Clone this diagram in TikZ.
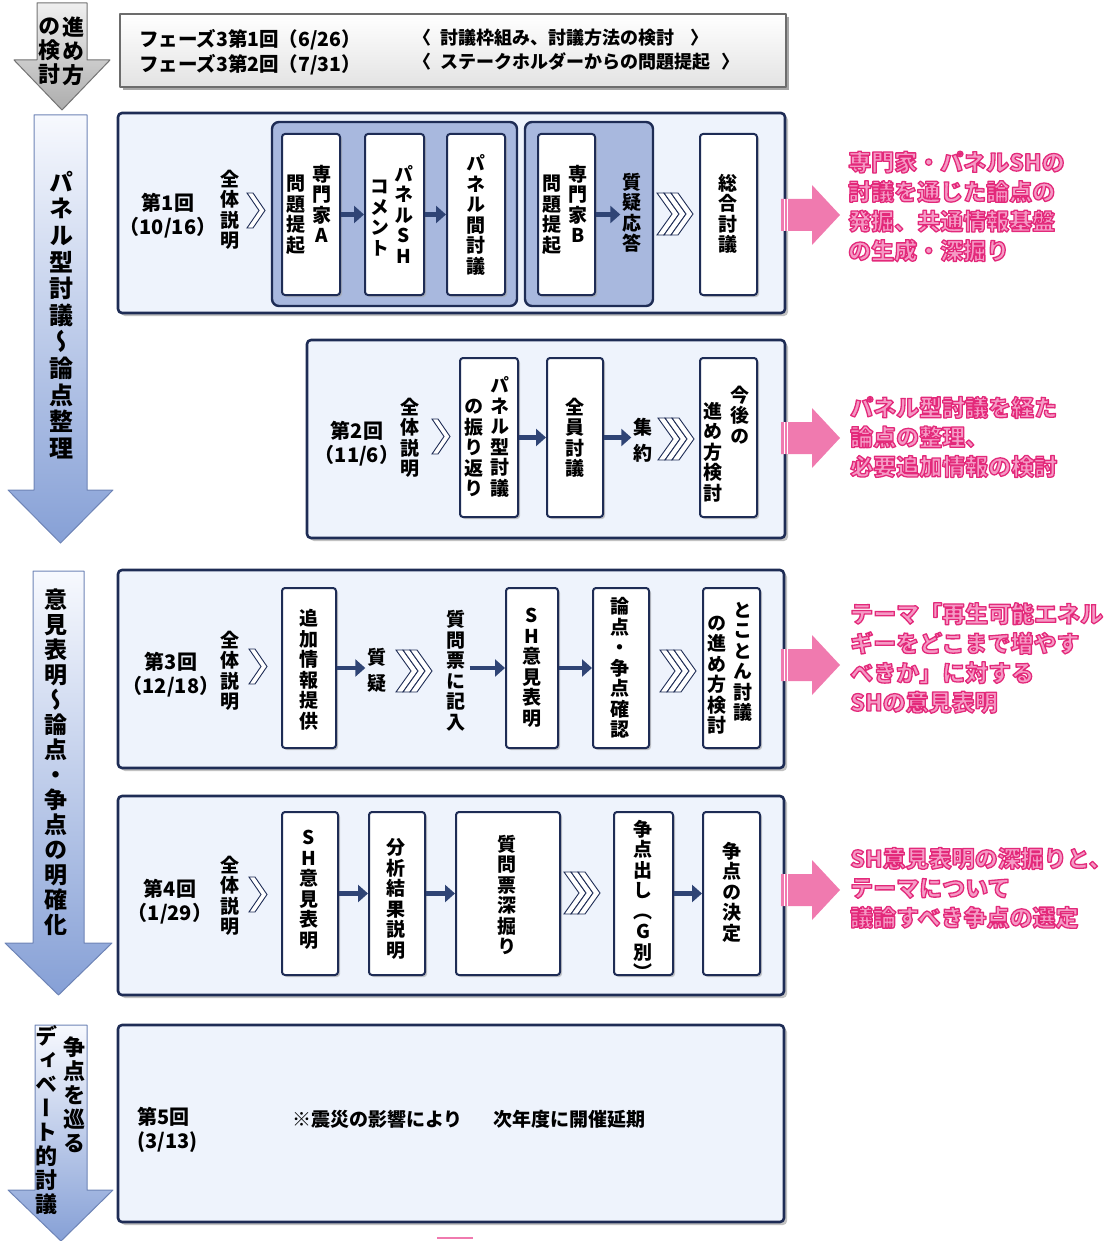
\documentclass[tikz,border=0pt]{standalone}
\usepackage{fontspec}
\usepackage{graphicx}
\usetikzlibrary{arrows.meta,shadows}
\newfontfamily\jpfont{Noto Sans CJK JP}
\newfontfamily\jpvfont{Noto Sans CJK JP}[RawFeature=+vert]
\definecolor{navy}{HTML}{1E2C55}
\definecolor{flowblue}{HTML}{2F4475}
\definecolor{boxfill}{HTML}{EEF3FC}
\definecolor{groupfill}{HTML}{A8B8DE}
\definecolor{pinkarrow}{HTML}{F07AAF}
\definecolor{pinkfill}{HTML}{F59AC5}
\definecolor{arrtop}{HTML}{F7F9FE}
\definecolor{arrbot}{HTML}{86A0D6}
\definecolor{arredge}{HTML}{6E84B6}
\newcommand{\pinkout}[1]{\special{pdf:literal direct 2 Tr 1.3 w 0.89 0.16 0.48 RG}#1\special{pdf:literal direct 0 Tr}}
\newcommand{\mkbox}[6]{\node[#1, minimum width={#5pt-#3pt}, minimum height={#6pt-#4pt}] (#2) at ({(#3+#5)/2},{(#4+#6)/2}) {};}
\tikzset{
  bigbox/.style={draw=navy, line width=2.6pt, rounded corners=4pt, fill=boxfill, inner sep=0pt,
    drop shadow={shadow xshift=3pt, shadow yshift=-3pt, fill=gray!80, opacity=.6}},
  headbox/.style={draw=gray!85!black, line width=1.6pt, top color=white, bottom color=gray!22, inner sep=0pt,
    drop shadow={shadow xshift=3pt, shadow yshift=-3pt, fill=gray, opacity=.7}},
  groupbox/.style={draw=navy, line width=2.4pt, rounded corners=7pt, fill=groupfill, inner sep=0pt},
  wbox/.style={draw=navy, line width=2pt, rounded corners=3pt, fill=white, inner sep=0pt,
    drop shadow={shadow xshift=2pt, shadow yshift=-2pt, fill=gray!70, opacity=.6}},
  vt/.style={font=\jpvfont\bfseries\fontsize{19}{20.5}\selectfont, align=center, inner sep=0pt},
  vtw/.style={font=\jpvfont\bfseries\fontsize{19}{26}\selectfont, align=center, inner sep=0pt},
  lab/.style={font=\jpfont\bfseries\fontsize{20}{24}\selectfont, align=center, inner sep=0pt},
  hdr/.style={font=\jpfont\bfseries\fontsize{19.5}{24}\selectfont, anchor=west, inner sep=0pt},
  hdrr/.style={font=\jpfont\bfseries\fontsize{18}{24}\selectfont, anchor=west, inner sep=0pt},
  pinktxt/.style={font=\jpfont\bfseries\fontsize{23}{29.5}\selectfont, text=pinkfill, align=left, anchor=west, inner sep=0pt},
  flow/.style={draw=flowblue, line width=4.6pt, -{Triangle[length=10pt,width=17pt]}},
  chevline/.style={draw=navy, line width=0.9pt, fill=white, line join=miter},
  chev/.pic={\draw[chevline] (0,0) -- (6,0) -- (18,17.5) -- (6,35) -- (0,35) -- (12,17.5) -- cycle;},
  tri/.pic={\foreach \i in {0,7,14}{\draw[chevline] (\i,0) -- (\i+7,0) -- (\i+22,21) -- (\i+7,42) -- (\i,42) -- (\i+15,21) -- cycle;}},
  pinkarr/.pic={\fill[pinkarrow] (0,-16) -- (31,-16) -- (31,-30) -- (59,0) -- (31,30) -- (31,16) -- (0,16) -- cycle;
     \draw[white, line width=0.9pt] (3,-16) -- (3,16) (6.5,-16) -- (6.5,16);},
}
\begin{document}
\begin{tikzpicture}[x=1pt,y=-1pt,line join=round]
\useasboundingbox (0,0) rectangle (1113,1241);

% ---------- left process arrows ----------
\shadedraw[top color=gray!12, bottom color=gray!65, draw=gray!90!black, line width=1pt]
  (37,3) -- (87,3) -- (87,60) -- (110,60) -- (62,110) -- (14,60) -- (37,60) -- cycle;
\node[font=\jpvfont\bfseries\fontsize{22}{24}\selectfont, align=center, inner sep=0pt] (ta1) at (73,51) {進\\め\\方};
\node[font=\jpvfont\bfseries\fontsize{22}{24}\selectfont, align=center, inner sep=0pt] (ta2) at (49,51) {の\\検\\討};

\shadedraw[top color=arrtop, bottom color=arrbot, draw=arredge, line width=1pt]
  (34,115) -- (87,115) -- (87,490) -- (113,490) -- (60.5,543) -- (8,490) -- (34,490) -- cycle;
\node[font=\jpvfont\bfseries\fontsize{24}{26.6}\selectfont, align=center, inner sep=0pt] (tb1) at (61,315)
  {パ\\ネ\\ル\\型\\討\\議\\〜\\論\\点\\整\\理};

\shadedraw[top color=arrtop, bottom color=arrbot, draw=arredge, line width=1pt]
  (33,571) -- (84,571) -- (84,943) -- (112,943) -- (58.5,995) -- (5,943) -- (33,943) -- cycle;
\node[font=\jpvfont\bfseries\fontsize{23}{25}\selectfont, align=center, inner sep=0pt] (tb2) at (56,762)
  {意\\見\\表\\明\\〜\\論\\点\\・\\争\\点\\の\\明\\確\\化};

\shadedraw[top color=arrtop, bottom color=arrbot, draw=arredge, line width=1pt]
  (35,1025) -- (87,1025) -- (87,1190) -- (113,1190) -- (61,1241) -- (8,1190) -- (35,1190) -- cycle;
\node[font=\jpvfont\bfseries\fontsize{22}{24}\selectfont, align=center, inner sep=0pt] (tb3a) at (74,1095)
  {争\\点\\を\\巡\\る};
\node[font=\jpvfont\bfseries\fontsize{22}{24}\selectfont, align=center, inner sep=0pt] (tb3b) at (46,1120)
  {デ\\ィ\\ベ\\ー\\ト\\的\\討\\議};

% ---------- header ----------
\mkbox{headbox}{hd}{120}{14}{786}{87}
\node[hdr] (h1) at (139,40) {フェーズ3第1回（6/26）};
\node[hdr] (h2) at (139,65) {フェーズ3第2回（7/31）};
\node[hdrr] (h3) at (413,38) {〈\hspace{0.5em}討議枠組み、討議方法の検討\hspace{0.9em}〉};
\node[hdrr] (h4) at (413,62) {〈\hspace{0.5em}ステークホルダーからの問題提起\hspace{0.6em}〉};

% ---------- session 1 ----------
\mkbox{bigbox}{s1}{118}{113}{785}{313}
\mkbox{groupbox}{gA}{272}{122}{517}{306}
\mkbox{groupbox}{gB}{525}{122}{653}{306}
\mkbox{wbox}{bA}{282}{134}{340}{295}
\mkbox{wbox}{bSH}{365}{134}{424}{295}
\mkbox{wbox}{bPan}{447}{134}{505}{295}
\mkbox{wbox}{bB}{538}{134}{595}{295}
\mkbox{wbox}{bSo}{700}{134}{757}{295}
\node[lab] (r1) at (168,216) {第1回\\（10/16）};
\node[vt] (z1) at (230,210) {全\\体\\説\\明};
\pic at (247,193) {chev};
\node[vt] (tA1) at (322,204) {専\\門\\家\\A};
\node[vt] (tA2) at (296,215) {問\\題\\提\\起};
\node[vt] (tS1) at (404,214) {パ\\ネ\\ル\\S\\H};
\node[vt] (tS2) at (380,218) {コ\\メ\\ン\\ト};
\node[vt] (tP) at (476,215) {パ\\ネ\\ル\\間\\討\\議};
\node[vt] (tB1) at (578,204) {専\\門\\家\\B};
\node[vt] (tB2) at (552,215) {問\\題\\提\\起};
\node[vt] (qa) at (632,213) {質\\疑\\応\\答};
\pic at (657,193) {tri};
\node[vt] (tSo) at (728,214) {総\\合\\討\\議};
\draw[flow] (bA.east) -- (bSH.west);
\draw[flow] (bSH.east) -- (bPan.west);
\draw[flow, shorten >=2pt] (bB.east) -- (bB.east -| qa.west);

% ---------- session 2 ----------
\mkbox{bigbox}{s2}{307}{340}{785}{538}
\mkbox{wbox}{bRev}{460}{358}{518}{517}
\mkbox{wbox}{bAll}{547}{358}{603}{517}
\mkbox{wbox}{bFut}{700}{358}{757}{517}
\node[lab] (r2) at (357,444) {第2回\\（11/6）};
\node[vt] (z2) at (410,438) {全\\体\\説\\明};
\pic at (432,419) {chev};
\node[vt] (tR1) at (500,437) {パ\\ネ\\ル\\型\\討\\議};
\node[vt] (tR2) at (474,448) {の\\振\\り\\返\\り};
\node[vt] (tAll) at (575,438) {全\\員\\討\\議};
\node[vtw] (sy) at (643,440) {集\\約};
\pic at (658,418) {tri};
\node[vt] (tF1) at (740,415) {今\\後\\の};
\node[vt] (tF2) at (713,452) {進\\め\\方\\検\\討};
\draw[flow] (bRev.east) -- (bAll.west);
\draw[flow, shorten >=2pt] (bAll.east) -- (bAll.east -| sy.west);

% ---------- session 3 ----------
\mkbox{bigbox}{s3}{118}{570}{784}{768}
\mkbox{wbox}{bAdd}{282}{588}{336}{748}
\mkbox{wbox}{bSH3}{506}{588}{558}{748}
\mkbox{wbox}{bRon}{593}{588}{649}{748}
\mkbox{wbox}{bTok}{703}{588}{760}{748}
\node[lab] (r3) at (171,675) {第3回\\（12/18）};
\node[vt] (z3) at (230,671) {全\\体\\説\\明};
\pic at (249,649) {chev};
\node[vt] (tAdd) at (309,670) {追\\加\\情\\報\\提\\供};
\node[vtw] (sg) at (377,670) {質\\疑};
\pic at (396,650) {tri};
\node[vt] (sm) at (456,671) {質\\問\\票\\に\\記\\入};
\node[vt] (tSH3) at (532,668) {S\\H\\意\\見\\表\\明};
\node[vt] (tRon) at (620,668) {論\\点\\・\\争\\点\\確\\認};
\pic at (660,650) {tri};
\node[vt] (tT1) at (743,662) {と\\こ\\と\\ん\\討\\議};
\node[vt] (tT2) at (717,675) {の\\進\\め\\方\\検\\討};
\draw[flow, shorten >=2pt] (bAdd.east) -- (bAdd.east -| sg.west);
\draw[flow, shorten <=4pt] (bSH3.west -| sm.east) -- (bSH3.west);
\draw[flow] (bSH3.east) -- (bRon.west);

% ---------- session 4 ----------
\mkbox{bigbox}{s4}{118}{796}{784}{995}
\mkbox{wbox}{bSH4}{282}{812}{338}{975}
\mkbox{wbox}{bAna}{369}{812}{425}{975}
\mkbox{wbox}{bDeep}{456}{812}{560}{975}
\mkbox{wbox}{bIss}{614}{812}{673}{975}
\mkbox{wbox}{bDec}{703}{812}{760}{975}
\node[lab] (r4) at (170,902) {第4回\\（1/29）};
\node[vt] (z4) at (230,896) {全\\体\\説\\明};
\pic at (249,877) {chev};
\node[vt] (tSH4) at (309,890) {S\\H\\意\\見\\表\\明};
\node[vt] (tAna) at (396,899) {分\\析\\結\\果\\説\\明};
\node[vt] (tDeep) at (507,895) {質\\問\\票\\深\\掘\\り};
\pic at (564,872) {tri};
\node[vt] (tIss) at (643,900) {争\\点\\出\\し\\（\\G\\別\\）};
\node[vt] (tDec) at (732,892) {争\\点\\の\\決\\定};
\draw[flow] (bSH4.east) -- (bAna.west);
\draw[flow] (bAna.east) -- (bDeep.west);
\draw[flow] (bIss.east) -- (bDec.west);

% ---------- session 5 ----------
\mkbox{bigbox}{s5}{118}{1025}{784}{1222}
\node[lab, align=left, anchor=west] (r5) at (137,1130) {第5回\\(3/13)};
\node[lab, anchor=west, font=\jpfont\bfseries\fontsize{19}{24}\selectfont] (note) at (292,1119)
  {※震災の影響により\hspace{1.6em}次年度に開催延期};

% ---------- pink result arrows ----------
\pic at (781,215) {pinkarr};
\pic at (781,438) {pinkarr};
\pic at (781,665) {pinkarr};
\pic at (781,890) {pinkarr};
\draw[pinkarrow, line width=2.5pt] (437,1238) -- (473,1238);

\node[pinktxt] (p1) at (848,206.5) {\pinkout{専門家・パネルSHの\\討議を通じた論点の\\発掘、共通情報基盤\\の生成・深掘り}};
\node[pinktxt] (p2) at (850,437) {\pinkout{パネル型討議を経た\\論点の整理、\\必要追加情報の検討}};
\node[pinktxt] (p3) at (850,658) {\pinkout{テーマ「再生可能エネル\\ギーをどこまで増やす\\べきか」に対する\\SHの意見表明}};
\node[pinktxt] (p4) at (850,888) {\pinkout{SH意見表明の深掘りと、\\テーマについて\\議論すべき争点の選定}};
\end{tikzpicture}
\end{document}
